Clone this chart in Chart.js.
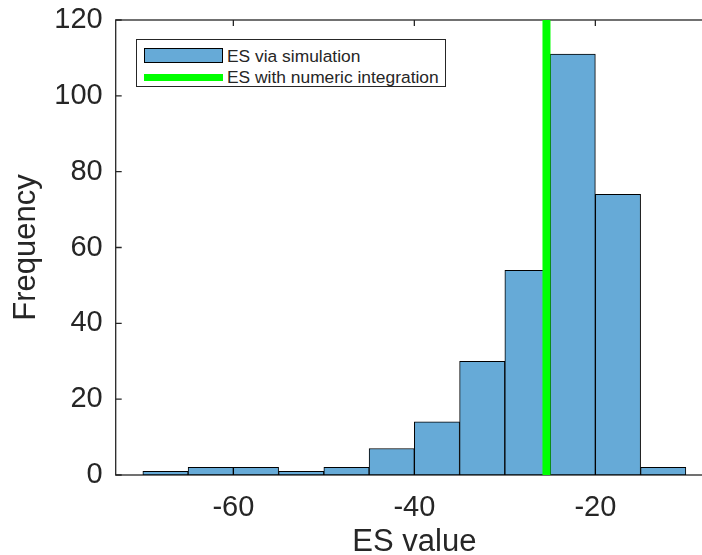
<!DOCTYPE html>
<html>
<head>
<meta charset="utf-8">
<script src="https://cdn.jsdelivr.net/npm/chart.js@4.4.1/dist/chart.umd.min.js"></script>
<style>
html,body{margin:0;padding:0;background:#fff;overflow:hidden;width:702px;height:555px;}
#wrap{position:relative;width:720px;height:555px;}
canvas{display:block;}
#legend{position:absolute;left:136px;top:39px;width:308px;height:46px;border:1px solid #262626;background:#fff;
  font-family:"Liberation Sans",Arial,sans-serif;font-size:17.4px;color:#262626;}
.item{position:absolute;left:0;height:20px;line-height:20px;white-space:nowrap;}
.sw{position:absolute;left:7px;width:79px;box-sizing:border-box;}
.lbl{position:absolute;left:90px;top:0;}
</style>
</head>
<body>
<div id="wrap">
  <canvas id="c" width="720" height="555"></canvas>
  <div id="legend"></div>
</div>
<script>
// ---- data ----
const binCenters = [-67.5, -62.5, -57.5, -52.5, -47.5, -42.5, -37.5, -32.5, -27.5, -22.5, -17.5, -12.5];
const binCounts  = [1, 2, 2, 1, 2, 7, 14, 30, 54, 111, 74, 2];
const esNumeric  = -25.4;          // ES with numeric integration (vertical line)
const esLineY    = [0, 120];       // vertical extent of that line
const xTicks     = [-60, -40, -20];
const yTicks     = [0, 20, 40, 60, 80, 100, 120];
const seriesLabels = ['ES via simulation', 'ES with numeric integration'];
const xTitle = 'ES value';
const yTitle = 'Frequency';

const INK = '#262626';
const FAMILY = '"Liberation Sans", Arial, sans-serif';

const framePlugin = {
  id: 'frame',
  beforeDatasetsDraw(chart) {
    const {ctx, chartArea: a, scales: {x, y}} = chart;
    ctx.save();
    ctx.strokeStyle = INK;
    ctx.lineWidth = 1.3;
    ctx.strokeRect(a.left, a.top, a.right - a.left, a.bottom - a.top);
    const tl = 6;
    ctx.beginPath();
    xTicks.forEach(v => {
      const px = x.getPixelForValue(v);
      ctx.moveTo(px, a.bottom); ctx.lineTo(px, a.bottom - tl);
      ctx.moveTo(px, a.top);    ctx.lineTo(px, a.top + tl);
    });
    yTicks.forEach(v => {
      const py = y.getPixelForValue(v);
      ctx.moveTo(a.left, py);  ctx.lineTo(a.left + tl, py);
      ctx.moveTo(a.right, py); ctx.lineTo(a.right - tl, py);
    });
    ctx.stroke();
    ctx.restore();
  }
};

const chart = new Chart(document.getElementById('c'), {
  type: 'bar',
  data: {
    datasets: [
      {
        type: 'bar',
        label: seriesLabels[0],
        data: binCenters.map((c, i) => ({x: c, y: binCounts[i]})),
        backgroundColor: '#66AAD7',
        borderColor: '#000000',
        borderWidth: 1,
        borderSkipped: false,
        barPercentage: 1,
        categoryPercentage: 1,
        order: 2
      },
      {
        type: 'line',
        label: seriesLabels[1],
        data: esLineY.map(v => ({x: esNumeric, y: v})),
        borderColor: '#00FF00',
        backgroundColor: '#00FF00',
        borderWidth: 8,
        borderCapStyle: 'butt',
        pointRadius: 0,
        fill: false,
        order: 1
      }
    ]
  },
  options: {
    responsive: false,
    animation: false,
    devicePixelRatio: 1,
    layout: {padding: {left: 0, top: 20, right: 7, bottom: 0}},
    plugins: {legend: {display: false}, tooltip: {enabled: false}},
    scales: {
      x: {
        type: 'linear',
        min: -73, max: -7,
        offset: false,
        grid: {display: false, drawTicks: false, offset: false},
        border: {display: false},
        afterBuildTicks: s => { s.ticks = xTicks.map(v => ({value: v})); },
        afterFit: s => { s.height = 80; },
        ticks: {
          font: {family: FAMILY, size: 29, lineHeight: 1.2},
          color: INK, padding: 16, maxRotation: 0, autoSkip: false,
          callback: v => String(v)
        },
        title: {
          display: true, text: xTitle, color: INK,
          font: {family: FAMILY, size: 31, lineHeight: 0.75},
          padding: {top: 0, bottom: 0.6}
        }
      },
      y: {
        type: 'linear',
        min: 0, max: 120,
        grid: {display: false, drawTicks: false},
        border: {display: false},
        afterBuildTicks: s => { s.ticks = yTicks.map(v => ({value: v})); },
        afterFit: s => { s.width = 115.7; },
        ticks: {
          font: {family: FAMILY, size: 29, lineHeight: 0.4},
          color: INK, padding: 13,
          callback: v => String(v)
        },
        title: {
          display: true, text: yTitle, color: INK,
          font: {family: FAMILY, size: 31, lineHeight: 0.75},
          padding: {top: 14.4, bottom: 0}
        }
      }
    }
  },
  plugins: [framePlugin]
});

// HTML legend built from the chart's datasets
(function buildLegend() {
  const box = document.getElementById('legend');
  const ds = chart.data.datasets;
  const rows = [
    {top: 6,  swTop: 2,   swH: 15},
    {top: 27, swTop: 6.5, swH: 7}
  ];
  ds.forEach((d, i) => {
    const r = rows[i];
    const item = document.createElement('div');
    item.className = 'item';
    item.style.top = r.top + 'px';
    item.style.width = '300px';
    const sw = document.createElement('div');
    sw.className = 'sw';
    sw.style.top = r.swTop + 'px';
    sw.style.height = r.swH + 'px';
    if (d.type === 'bar') {
      sw.style.background = d.backgroundColor;
      sw.style.border = '1px solid ' + d.borderColor;
    } else {
      sw.style.background = d.borderColor;
    }
    const lbl = document.createElement('span');
    lbl.className = 'lbl';
    lbl.textContent = d.label;
    item.appendChild(sw);
    item.appendChild(lbl);
    box.appendChild(item);
  });
})();
</script>
</body>
</html>
